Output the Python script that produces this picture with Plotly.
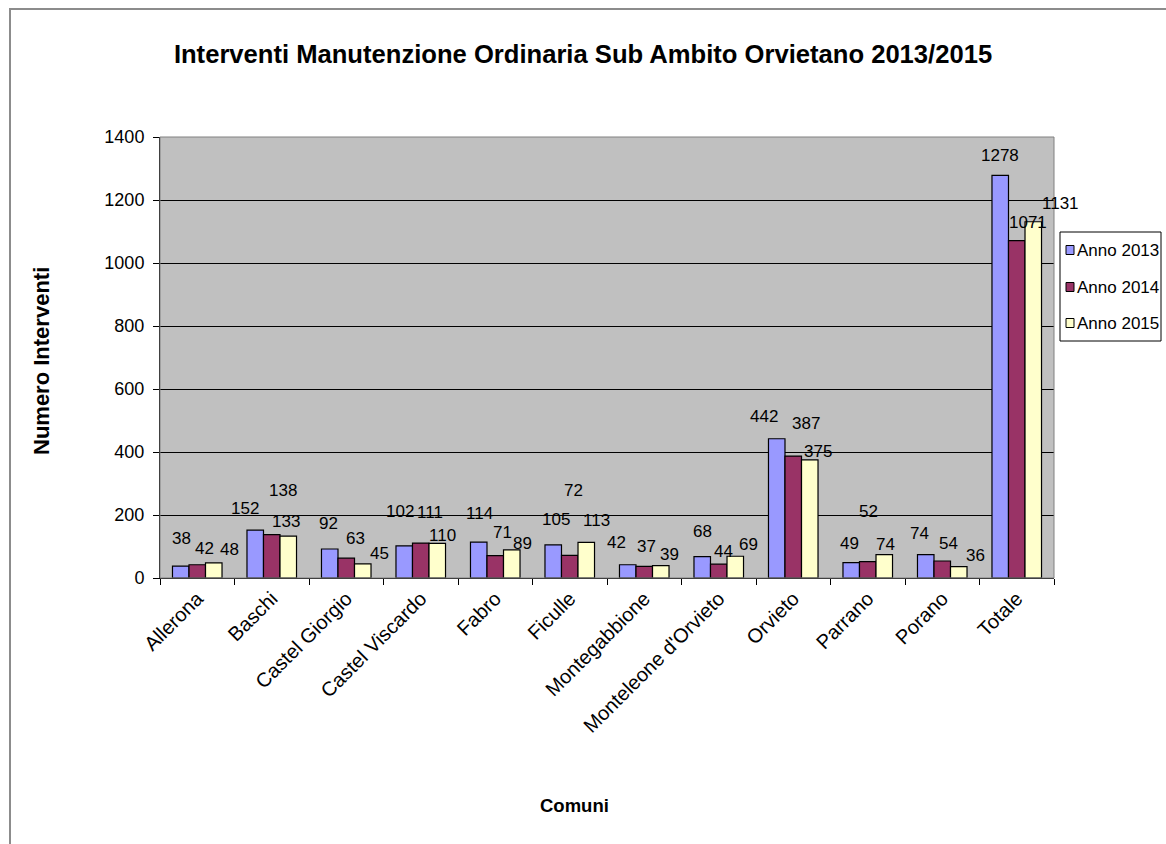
import plotly.graph_objects as go

# --- data -------------------------------------------------------------
COMUNI = ["Allerona", "Baschi", "Castel Giorgio", "Castel Viscardo", "Fabro",
          "Ficulle", "Montegabbione", "Monteleone d'Orvieto", "Orvieto",
          "Parrano", "Porano", "Totale"]
ANNO_2013 = [38, 152, 92, 102, 114, 105, 42, 68, 442, 49, 74, 1278]
ANNO_2014 = [42, 138, 63, 111, 71, 72, 37, 44, 387, 52, 54, 1071]
ANNO_2015 = [48, 133, 45, 110, 89, 113, 39, 69, 375, 74, 36, 1131]
SERIE = ["Anno 2013", "Anno 2014", "Anno 2015"]
Y_TICKS = [0, 200, 400, 600, 800, 1000, 1200, 1400]

# --- styling ----------------------------------------------------------
COLORI = ["#9999FF", "#993366", "#FFFFCC"]
FONT = "Liberation Sans, Arial, sans-serif"

# hand-placed data label nudges (pixels: right, up) per series
LABEL_DX = [
    [1, -10, -1.5, -4, 1, 3, -11, 0, -13, -2, -6.5, 0],
    [7.5, 11, 9, 9, 7, 4, 2.5, 5, 13, 0.5, 6, 11],
    [15.5, -2, 16.5, 5.5, 11, 10, 9, 13, 8.5, 1, 17, 27],
]
LABEL_UP = [
    [28, 22, 26, 34, 29, 25, 22, 25, 22, 19, 21, 20],
    [16.5, 44.5, 20, 31, 23, 65, 19.5, 12.5, 33, 50, 17, 18],
    [13, 14.5, 10.5, 8, 6, 22, 11.5, 12, 8, 10.5, 11.5, 18],
]

W, H = 1166, 844
M_L, M_R, M_T, M_B = 160, 112, 137, 266
PW, PH = W - M_L - M_R, H - M_T - M_B
BARGAP = 0.335


def px_x(p):
    return (p - M_L) / PW


def px_y(p):
    return (H - M_B - p) / PH


valori = [ANNO_2013, ANNO_2014, ANNO_2015]

fig = go.Figure()
for nome, vals, col in zip(SERIE, valori, COLORI):
    fig.add_trace(go.Bar(
        x=COMUNI, y=vals, name=nome,
        marker=dict(color=col, line=dict(color="#000000", width=1.2)),
        showlegend=False,
    ))

# data labels
cat_w = PW / len(COMUNI)
bar_w = cat_w * (1 - BARGAP) / len(SERIE)
annotations = []
for s, vals in enumerate(valori):
    off = (s - (len(SERIE) - 1) / 2) * bar_w
    for i, v in enumerate(vals):
        annotations.append(dict(
            x=COMUNI[i], y=v, xref="x", yref="y", text=str(v),
            showarrow=False, xanchor="center", yanchor="middle",
            xshift=off + LABEL_DX[s][i], yshift=LABEL_UP[s][i],
            font=dict(family=FONT, size=17, color="#000000"),
        ))

# axis titles
annotations.append(dict(
    x=px_x(41), y=px_y(361), xref="paper", yref="paper",
    xanchor="center", yanchor="middle",
    text="<b>Numero Interventi</b>", textangle=-90, showarrow=False,
    font=dict(family=FONT, size=22, color="#000000"),
))
annotations.append(dict(
    x=px_x(574), y=px_y(805), xref="paper", yref="paper",
    xanchor="center", yanchor="middle",
    text="<b>Comuni</b>", showarrow=False,
    font=dict(family=FONT, size=18.5, color="#000000"),
))

# legend drawn as a box with swatches
shapes = []
LEG_X0, LEG_Y0, LEG_X1, LEG_Y1 = 1060, 232, 1161, 341
LEG_ROWS = [250, 287, 323]
shapes.append(dict(type="rect", xref="paper", yref="paper",
                   x0=px_x(LEG_X0), x1=px_x(LEG_X1), y0=px_y(LEG_Y1), y1=px_y(LEG_Y0),
                   fillcolor="#FFFFFF", line=dict(color="#000000", width=1)))
for nome, col, yr in zip(SERIE, COLORI, LEG_ROWS):
    shapes.append(dict(type="rect", xref="paper", yref="paper",
                       x0=px_x(1066), x1=px_x(1074), y0=px_y(yr + 4.5), y1=px_y(yr - 4.5),
                       fillcolor=col, line=dict(color="#000000", width=1)))
    annotations.append(dict(
        x=px_x(1075), y=px_y(yr), xref="paper", yref="paper", text=nome,
        showarrow=False, xanchor="left", yanchor="middle",
        font=dict(family=FONT, size=17, color="#000000"),
    ))

# plot-area frame and outer chart border
shapes.append(dict(type="rect", xref="paper", yref="paper", x0=0, x1=1, y0=0, y1=1,
                   line=dict(color="#808080", width=1), layer="above"))
shapes.append(dict(type="rect", xref="paper", yref="paper",
                   x0=px_x(10), x1=px_x(1200), y0=px_y(900), y1=px_y(9),
                   line=dict(color="#8C8C8C", width=2), layer="below"))

fig.update_layout(
    width=W, height=H,
    margin=dict(l=M_L, r=M_R, t=M_T, b=M_B, autoexpand=False),
    paper_bgcolor="#FFFFFF", plot_bgcolor="#C0C0C0",
    barmode="group", bargap=BARGAP, bargroupgap=0,
    title=dict(text="<b>Interventi Manutenzione Ordinaria Sub Ambito Orvietano 2013/2015</b>",
               x=0.5, xanchor="center", y=1 - 54 / H, yanchor="middle",
               font=dict(family=FONT, size=25.6, color="#000000")),
    xaxis=dict(type="category", range=[-0.5, len(COMUNI) - 0.5],
               showline=True, linecolor="#000000", linewidth=1,
               ticks="outside", tickson="boundaries", ticklen=6, tickcolor="#000000",
               tickangle=-45, showgrid=False,
               tickfont=dict(family=FONT, size=20, color="#000000")),
    yaxis=dict(range=[0, 1400], tickvals=Y_TICKS, showline=True, linecolor="#000000",
               linewidth=1, ticks="outside", ticklen=6, tickcolor="#000000",
               showgrid=True, gridcolor="#000000", gridwidth=1, zeroline=False,
               ticklabelstandoff=5,
               tickfont=dict(family=FONT, size=18, color="#000000")),
    annotations=annotations, shapes=shapes,
    showlegend=False,
)

fig.write_html("out.html")
